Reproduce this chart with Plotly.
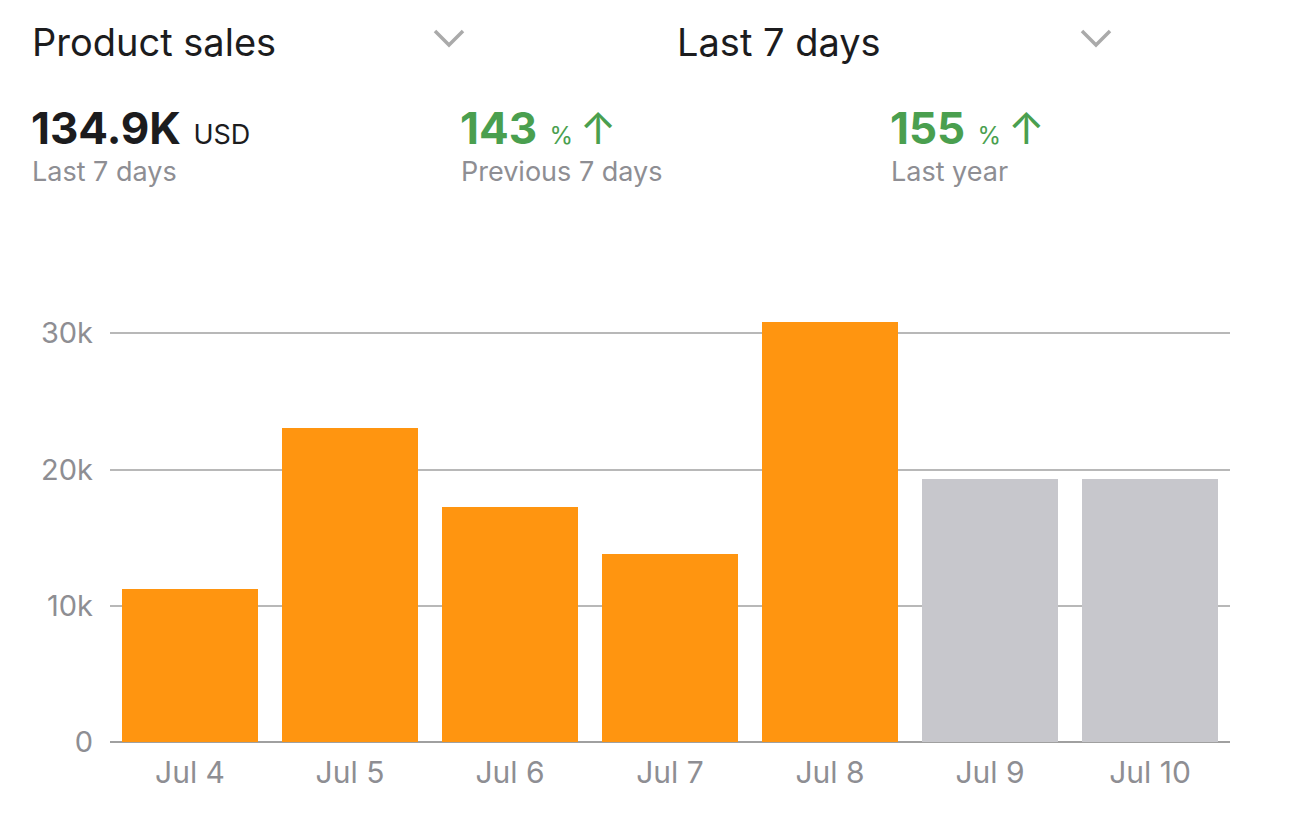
import plotly.graph_objects as go

# ---- data ----
days = ["Jul 4", "Jul 5", "Jul 6", "Jul 7", "Jul 8", "Jul 9", "Jul 10"]
actual_days = ["Jul 4", "Jul 5", "Jul 6", "Jul 7", "Jul 8"]
actual_sales = [11230, 23050, 17280, 13800, 30840]
pending_days = ["Jul 9", "Jul 10"]
pending_sales = [19290, 19330]
y_ticks = [0, 10000, 20000, 30000]
y_tick_labels = ["0", "10k", "20k", "30k"]

metric_title = "Product sales"
period_title = "Last 7 days"
total_value = "134.9K"
total_unit = "USD"
total_caption = "Last 7 days"
prev_change = "143"
prev_caption = "Previous 7 days"
year_change = "155"
year_caption = "Last year"

# ---- style ----
OFF = 8  # page body margin
W, H = 1290 - 2 * OFF, 815 - 2 * OFF
PL, PR, PT, PB = 110, 1230, 306, 742  # plot area in page pixels
FONT = "Inter"
DARK = "#1c1c1e"
GREY_TXT = "#8e8e93"
GREEN = "#4a9f4f"
ORANGE = "#ff9510"
BAR_GREY = "#c7c7cc"


def px(x):
    return (x - PL) / (PR - PL)


def py(y):
    return (PB - y) / (PB - PT)


fig = go.Figure()
fig.add_trace(go.Bar(x=actual_days, y=actual_sales, marker_color=ORANGE,
                     marker_line_width=0, hoverinfo="x+y"))
fig.add_trace(go.Bar(x=pending_days, y=pending_sales, marker_color=BAR_GREY,
                     marker_line_width=0, hoverinfo="x+y"))

ann = []


def text(x, y, s, size, color, anchor="left"):
    ann.append(dict(x=px(x), y=py(y), xref="paper", yref="paper", text=s,
                    showarrow=False, xanchor=anchor, yanchor="middle",
                    font=dict(family=FONT, size=size, color=color)))


text(30, 42, metric_title, 38, DARK)
text(675, 42, period_title, 38, DARK)
text(29, 128, f"<b>{total_value}</b> <span style='font-size:27px'>{total_unit}</span>", 44, DARK)
text(30, 171, total_caption, 27, GREY_TXT)
text(458, 128, f"<b>{prev_change}</b> <span style='font-size:24px'>% </span>↑", 44, GREEN)
text(459, 172, prev_caption, 27, GREY_TXT)
text(888, 128, f"<b>{year_change}</b> <span style='font-size:24px'>% </span>↑", 44, GREEN)
text(889, 172, year_caption, 27, GREY_TXT)

shapes = []
for cx in (449, 1096):
    shapes.append(dict(type="path", xref="paper", yref="paper",
                       path=f"M {px(cx-14)} {py(31)} L {px(cx)} {py(45)} L {px(cx+14)} {py(31)}",
                       line=dict(color="#aaaaaa", width=3.5)))

fig.update_layout(
    width=W, height=H,
    margin=dict(l=PL - OFF, r=W - (PR - OFF), t=PT - OFF, b=H - (PB - OFF), pad=0),
    paper_bgcolor="white", plot_bgcolor="white",
    barmode="stack", bargap=0.15, showlegend=False,
    font=dict(family=FONT, color=GREY_TXT),
    annotations=ann, shapes=shapes,
    xaxis=dict(categoryorder="array", categoryarray=days, range=[-0.5, 6.5],
               showgrid=False, showline=False, ticks="", fixedrange=True,
               tickfont=dict(size=30, color=GREY_TXT, family=FONT),
               ticklabelstandoff=10),
    yaxis=dict(range=[0, 32000], tickvals=y_ticks, ticktext=y_tick_labels,
               showgrid=True, gridcolor="#b8b8b8", gridwidth=2,
               zeroline=True, zerolinecolor="#a0a0a0", zerolinewidth=2,
               showline=False, ticks="", fixedrange=True,
               tickfont=dict(size=29, color=GREY_TXT, family=FONT),
               ticklabelstandoff=16),
)

fig.write_html("out.html")
